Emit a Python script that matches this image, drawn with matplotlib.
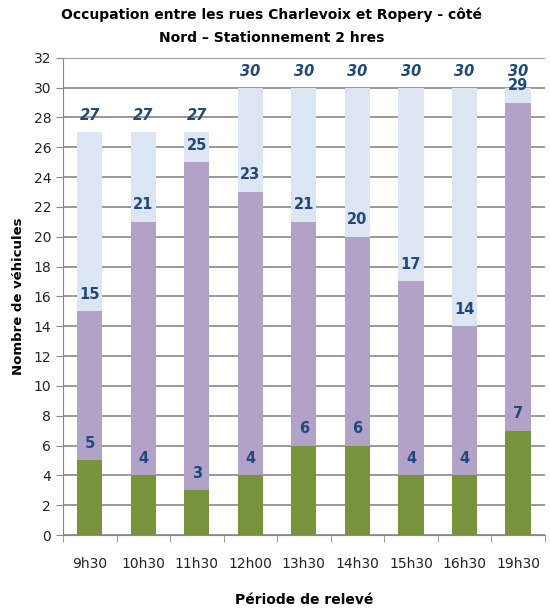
import matplotlib.pyplot as plt
import numpy as np

periodes = ['9h30', '10h30', '11h30', '12h00', '13h30', '14h30', '15h30', '16h30', '19h30']
capacite = [27, 27, 27, 30, 30, 30, 30, 30, 30]
occupation = [15, 21, 25, 23, 21, 20, 17, 14, 29]
depassement = [5, 4, 3, 4, 6, 6, 4, 4, 7]

fig = plt.figure(figsize=(5.5, 6.08), dpi=100)
ax = fig.add_axes([0.1145, 0.12, 0.876, 0.785])

x = np.arange(len(periodes))
w = 0.47
ax.bar(x, capacite, w, color='#DCE6F2', zorder=2)
ax.bar(x, occupation, w, color='#B3A2C7', zorder=3)
ax.bar(x, depassement, w, color='#77933C', zorder=4)

lab = dict(ha='center', va='center', color='#1F497D', fontweight='heavy', fontsize=10.5, zorder=5)
for i in range(len(x)):
    ax.text(x[i], capacite[i] + 1.1, str(capacite[i]), style='italic', **lab)
    ax.text(x[i], occupation[i] + 1.15, str(occupation[i]), **lab)
    ax.text(x[i], depassement[i] + 1.15, str(depassement[i]), **lab)

ax.set_xlim(-0.5, len(x) - 0.5)
ax.set_ylim(0, 32)
ax.set_yticks(range(0, 33, 2))
ax.set_xticks(x)
ax.set_xticklabels(periodes)
ax.set_xticks(np.arange(-0.5, len(x), 1), minor=True)
ax.tick_params(axis='x', which='major', length=0, pad=16, labelsize=10, colors='#222222')
ax.tick_params(axis='x', which='minor', length=5, color='#888888')
ax.tick_params(axis='y', length=5, labelsize=10, colors='#222222')
ax.tick_params(axis='y', color='#888888')
ax.grid(axis='y', color='#888888', linewidth=1.2, zorder=1)
for s in ['top', 'right']:
    ax.spines[s].set_visible(False)
ax.spines['left'].set_color('#888888')
ax.spines['bottom'].set_color('#888888')

ax.set_ylabel('Nombre de véhicules', fontweight='bold', fontsize=9.5, labelpad=6)
ax.set_xlabel('Période de relevé', fontweight='bold', fontsize=10, labelpad=16)
fig.text(0.494, 0.975, 'Occupation entre les rues Charlevoix et Ropery - côté', ha='center', va='center',
         fontweight='bold', fontsize=10)
fig.text(0.494, 0.938, 'Nord – Stationnement 2 hres', ha='center', va='center',
         fontweight='bold', fontsize=10)

fig.savefig('out.png', dpi=100)
